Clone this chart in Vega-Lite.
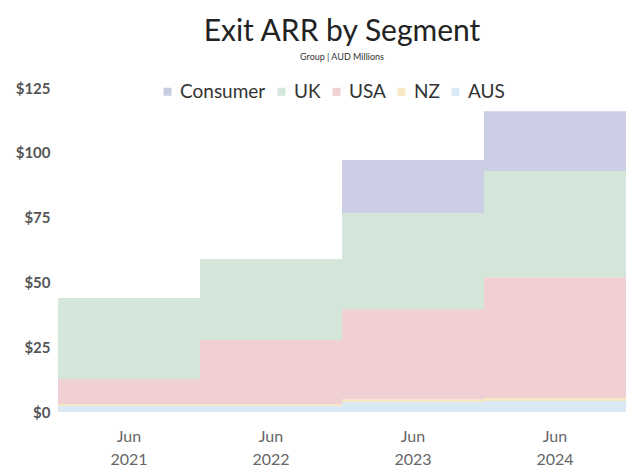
{
  "$schema": "https://vega.github.io/schema/vega-lite/v6.json",
  "width": 568,
  "height": 324,
  "autosize": {"type": "none"},
  "padding": {"left": 58, "top": 88, "right": 0, "bottom": 55},
  "background": "white",
  "title": {
    "text": "Exit ARR by Segment",
    "subtitle": "Group | AUD Millions",
    "anchor": "middle",
    "frame": "group",
    "font": "Lato",
    "fontSize": 30,
    "fontWeight": "normal",
    "color": "#222222",
    "subtitleFont": "Lato",
    "subtitleFontSize": 9,
    "subtitleColor": "#333333",
    "subtitlePadding": 6,
    "offset": 19
  },
  "data": {
    "values": [
      {"period": "Jun 2021", "segment": "AUS", "arr": 2.3},
      {"period": "Jun 2021", "segment": "NZ", "arr": 0.8},
      {"period": "Jun 2021", "segment": "USA", "arr": 9.6},
      {"period": "Jun 2021", "segment": "UK", "arr": 31.3},
      {"period": "Jun 2021", "segment": "Consumer", "arr": 0},
      {"period": "Jun 2022", "segment": "AUS", "arr": 2.3},
      {"period": "Jun 2022", "segment": "NZ", "arr": 0.8},
      {"period": "Jun 2022", "segment": "USA", "arr": 24.7},
      {"period": "Jun 2022", "segment": "UK", "arr": 31.2},
      {"period": "Jun 2022", "segment": "Consumer", "arr": 0},
      {"period": "Jun 2023", "segment": "AUS", "arr": 3.9},
      {"period": "Jun 2023", "segment": "NZ", "arr": 1.0},
      {"period": "Jun 2023", "segment": "USA", "arr": 34.8},
      {"period": "Jun 2023", "segment": "UK", "arr": 37.1},
      {"period": "Jun 2023", "segment": "Consumer", "arr": 20.4},
      {"period": "Jun 2024", "segment": "AUS", "arr": 4.2},
      {"period": "Jun 2024", "segment": "NZ", "arr": 1.2},
      {"period": "Jun 2024", "segment": "USA", "arr": 46.6},
      {"period": "Jun 2024", "segment": "UK", "arr": 41.0},
      {"period": "Jun 2024", "segment": "Consumer", "arr": 23.0}
    ]
  },
  "transform": [
    {"calculate": "indexof(['Consumer','UK','USA','NZ','AUS'], datum.segment)", "as": "stackRank"}
  ],
  "mark": {"type": "bar", "strokeWidth": 0, "opacity": 1},
  "encoding": {
    "x": {
      "field": "period",
      "type": "ordinal",
      "scale": {"paddingInner": 0, "paddingOuter": 0},
      "axis": {
        "title": null,
        "labelAngle": 0,
        "domain": false,
        "ticks": false,
        "labelExpr": "split(datum.label, ' ')",
        "labelFont": "Lato",
        "labelFontSize": 16,
        "labelColor": "#666666",
        "labelLineHeight": 23,
        "labelPadding": 16
      }
    },
    "y": {
      "field": "arr",
      "type": "quantitative",
      "stack": "zero",
      "scale": {"domain": [0, 125], "nice": false},
      "axis": {
        "title": null,
        "values": [0, 25, 50, 75, 100, 125],
        "format": "$,.0f",
        "domain": false,
        "ticks": false,
        "grid": false,
        "labelFont": "Lato",
        "labelFontSize": 15,
        "labelFontWeight": "bold",
        "labelColor": "#555555",
        "labelPadding": 8
      }
    },
    "order": {"field": "stackRank", "type": "quantitative", "sort": "descending"},
    "color": {
      "field": "segment",
      "type": "nominal",
      "scale": {
        "domain": ["Consumer", "UK", "USA", "NZ", "AUS"],
        "range": ["#cbcde4", "#d4e6da", "#f0d0d2", "#f6e9c4", "#dbe9f4"]
      },
      "legend": {
        "title": null,
        "orient": "none",
        "legendX": 100,
        "legendY": -6,
        "direction": "horizontal",
        "symbolType": "square",
        "symbolSize": 64,
        "symbolStrokeWidth": 0,
        "labelFont": "Lato",
        "labelFontSize": 19,
        "labelColor": "#333333",
        "labelOffset": 3,
        "columnPadding": 6
      }
    }
  },
  "config": {"view": {"stroke": null}}
}
